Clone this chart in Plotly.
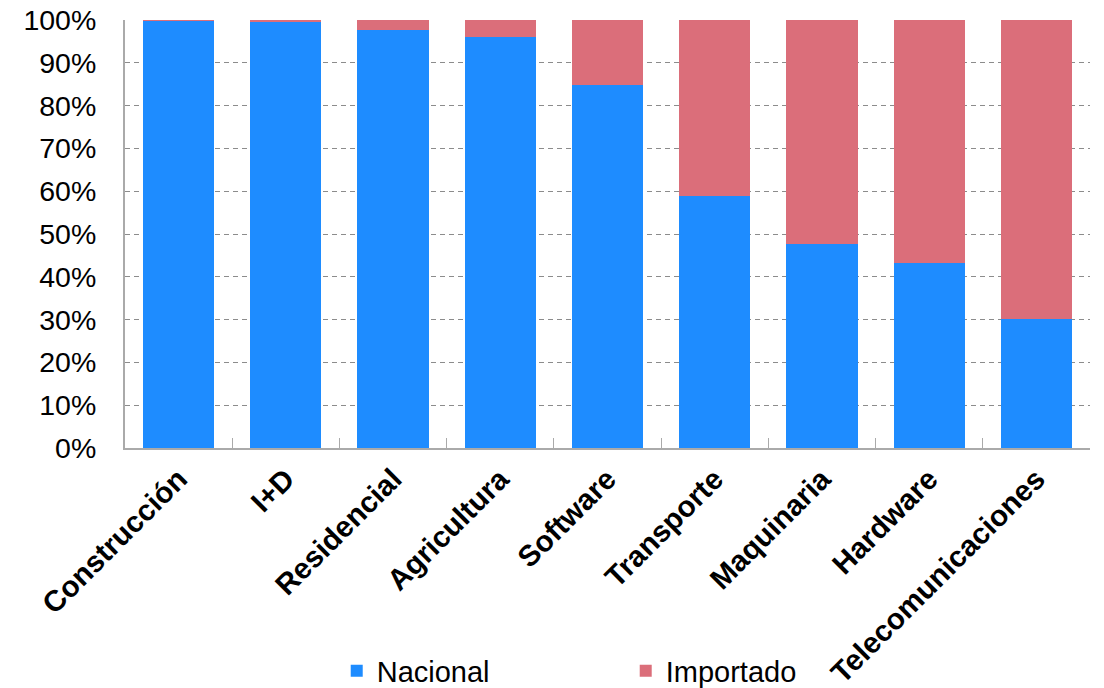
import plotly.graph_objects as go

categories = ["Construcción", "I+D", "Residencial", "Agricultura", "Software",
              "Transporte", "Maquinaria", "Hardware", "Telecomunicaciones"]
nacional = [99.8, 99.5, 97.7, 96.0, 84.8, 58.9, 47.6, 43.2, 30.2]
importado = [round(100 - v, 1) for v in nacional]
y_ticks = [0, 10, 20, 30, 40, 50, 60, 70, 80, 90, 100]
y_tick_labels = [f"{t}%" for t in y_ticks]

FONT = "Liberation Sans, Arial, Helvetica, sans-serif"

fig = go.Figure()
fig.add_trace(go.Bar(x=categories, y=nacional, name="Nacional",
                     marker=dict(color="#1E8CFF", line=dict(width=0))))
fig.add_trace(go.Bar(x=categories, y=importado, name="Importado",
                     marker=dict(color="#DB6E7A", line=dict(width=0))))

fig.update_layout(
    barmode="stack",
    bargap=0.335,
    width=1104, height=688,
    margin=dict(l=125, r=14, t=20, b=240, autoexpand=False),
    plot_bgcolor="white", paper_bgcolor="white",
    font=dict(family=FONT, size=22, color="black"),
    legend=dict(orientation="h", yref="container", xref="container",
                x=0.305, y=0.025, xanchor="left", yanchor="middle",
                entrywidth=244, entrywidthmode="pixels",
                font=dict(size=29), itemwidth=30, traceorder="normal",
                bgcolor="rgba(0,0,0,0)"),
    showlegend=True,
)
fig.update_xaxes(
    tickangle=-45, automargin=False,
    tickfont=dict(family=FONT, size=29.5, color="black", weight="bold"),
    showline=True, linecolor="#AAAAAA", linewidth=2,
    ticks="inside", tickson="boundaries", ticklen=10, tickcolor="#AAAAAA",
    showgrid=False,
)
fig.update_yaxes(
    range=[0, 100], tickvals=y_ticks, ticktext=y_tick_labels,
    automargin=False,
    tickfont=dict(family=FONT, size=28.5, color="black"),
    showline=True, linecolor="#AAAAAA", linewidth=2,
    showgrid=True, gridcolor="#8C8C8C", griddash="5px,4px", gridwidth=1,
    ticks="", ticklabelstandoff=21, zeroline=False,
)

fig.write_html("out.html")
